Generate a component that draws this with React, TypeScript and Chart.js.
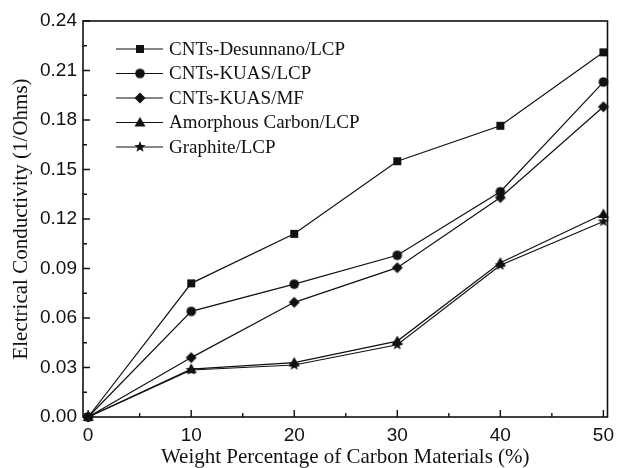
import React, { useEffect, useRef } from 'react';
import { Chart, registerables } from 'chart.js';

Chart.register(...registerables);

const xValues = [0, 10, 20, 30, 40, 50];
const seriesNames = [
  'CNTs-Desunnano/LCP',
  'CNTs-KUAS/LCP',
  'CNTs-KUAS/MF',
  'Amorphous Carbon/LCP',
  'Graphite/LCP',
];
const desunnanoLCP = [0, 0.081, 0.111, 0.155, 0.1765, 0.221];
const kuasLCP = [0, 0.064, 0.0805, 0.098, 0.1365, 0.203];
const kuasMF = [0, 0.036, 0.0695, 0.0905, 0.133, 0.188];
const amorphousLCP = [0, 0.029, 0.033, 0.046, 0.0935, 0.123];
const graphiteLCP = [0, 0.0285, 0.0315, 0.0438, 0.092, 0.1185];

const xTicks = [0, 10, 20, 30, 40, 50];
const xMinorTicks = [5, 15, 25, 35, 45];
const yTicks = [0, 0.03, 0.06, 0.09, 0.12, 0.15, 0.18, 0.21, 0.24];
const yMinorTicks = [0.015, 0.045, 0.075, 0.105, 0.135, 0.165, 0.195, 0.225];

const xTitle = 'Weight Percentage of Carbon Materials (%)';
const yTitle = 'Electrical Conductivity (1/Ohms)';

const INK = '#111';
const SERIF = '"Liberation Serif", "Times New Roman", serif';
const SANS = '"Liberation Sans", Arial, sans-serif';

function makeMarker(shape: string): HTMLCanvasElement {
  const c = document.createElement('canvas');
  c.width = 14;
  c.height = 14;
  const g = c.getContext('2d')!;
  g.fillStyle = INK;
  g.beginPath();
  const cx = 7, cy = 7;
  if (shape === 'square') {
    g.rect(cx - 4, cy - 4, 8, 8);
  } else if (shape === 'circle') {
    g.arc(cx, cy, 4.8, 0, Math.PI * 2);
  } else if (shape === 'diamond') {
    g.moveTo(cx, cy - 5.5);
    g.lineTo(cx + 5.5, cy);
    g.lineTo(cx, cy + 5.5);
    g.lineTo(cx - 5.5, cy);
    g.closePath();
  } else if (shape === 'triangle') {
    g.moveTo(cx, cy - 5.5);
    g.lineTo(cx + 5.5, cy + 4);
    g.lineTo(cx - 5.5, cy + 4);
    g.closePath();
  } else {
    const ro = 6, ri = 2.5;
    for (let i = 0; i < 10; i++) {
      const r = i % 2 === 0 ? ro : ri;
      const a = -Math.PI / 2 + (i * Math.PI) / 5;
      const px = cx + r * Math.cos(a);
      const py = cy + r * Math.sin(a);
      if (i === 0) g.moveTo(px, py);
      else g.lineTo(px, py);
    }
    g.closePath();
  }
  g.fill();
  return c;
}

const frameAndTicks = {
  id: 'frameAndTicks',
  afterDatasetsDraw(chart: any) {
    const { ctx, chartArea } = chart;
    const xs = chart.scales.x;
    const ys = chart.scales.y;
    const { left, right, top, bottom } = chartArea;
    ctx.save();
    ctx.strokeStyle = INK;
    ctx.lineWidth = 1.6;
    ctx.strokeRect(left, top, right - left, bottom - top);
    ctx.lineWidth = 1.4;
    ctx.beginPath();
    const xt = (vals: number[], len: number) => {
      vals.forEach((v) => {
        const px = xs.getPixelForValue(v);
        ctx.moveTo(px, bottom);
        ctx.lineTo(px, bottom - len);
      });
    };
    const yt = (vals: number[], len: number) => {
      vals.forEach((v) => {
        const py = ys.getPixelForValue(v);
        ctx.moveTo(left, py);
        ctx.lineTo(left + len, py);
      });
    };
    xt(xTicks, 7);
    xt(xMinorTicks, 4);
    yt(yTicks, 7);
    yt(yMinorTicks, 4);
    ctx.stroke();
    ctx.restore();
  },
};

const insideLegend = {
  id: 'insideLegend',
  afterDraw(chart: any) {
    const { ctx } = chart;
    ctx.save();
    ctx.font = `19px ${SERIF}`;
    ctx.textBaseline = 'middle';
    ctx.textAlign = 'left';
    chart.data.datasets.forEach((ds: any, i: number) => {
      const y = 49 + i * 24.5;
      ctx.strokeStyle = INK;
      ctx.lineWidth = 1.2;
      ctx.beginPath();
      ctx.moveTo(116, y);
      ctx.lineTo(163, y);
      ctx.stroke();
      const img = ds.pointStyle as HTMLCanvasElement;
      ctx.drawImage(img, 140 - img.width / 2, y - img.height / 2);
      ctx.fillStyle = INK;
      ctx.fillText(ds.label, 169, y + 1);
    });
    ctx.restore();
  },
};

export default function App() {
  const ref = useRef<HTMLCanvasElement | null>(null);

  useEffect(() => {
    document.body.style.margin = '0';
    const markers = ['square', 'circle', 'diamond', 'triangle', 'star'].map(makeMarker);
    const seriesValues = [desunnanoLCP, kuasLCP, kuasMF, amorphousLCP, graphiteLCP];
    const datasets = seriesValues.map((vals, i) => ({
      label: seriesNames[i],
      data: vals.map((v, j) => ({ x: xValues[j], y: v })),
      borderColor: INK,
      backgroundColor: INK,
      borderWidth: 1.2,
      pointStyle: markers[i] as any,
      pointRadius: 5,
      clip: false as any,
      tension: 0,
    }));

    const chart = new Chart(ref.current!, {
      type: 'line',
      data: { datasets },
      plugins: [frameAndTicks, insideLegend],
      options: {
        animation: false,
        responsive: false,
        layout: { padding: { top: 21, right: 7, bottom: 0, left: 0 } },
        plugins: { legend: { display: false }, tooltip: { enabled: false } },
        scales: {
          x: {
            type: 'linear',
            min: -0.5,
            max: 50.4,
            grid: { display: false, drawTicks: false },
            border: { display: false },
            afterBuildTicks: (s: any) => {
              s.ticks = xTicks.map((v) => ({ value: v }));
            },
            afterFit: (s: any) => {
              s.height = 51;
            },
            ticks: {
              color: INK,
              padding: 7,
              maxRotation: 0,
              autoSkip: false,
              font: { family: SANS, size: 19 },
              callback: (v: any) => String(v),
            },
            title: {
              display: true,
              text: xTitle,
              color: INK,
              font: { family: SERIF, size: 21 },
              padding: { top: 0, bottom: -2 },
            },
          },
          y: {
            type: 'linear',
            min: 0,
            max: 0.24,
            grid: { display: false, drawTicks: false },
            border: { display: false },
            afterBuildTicks: (s: any) => {
              s.ticks = yTicks.map((v) => ({ value: v }));
            },
            afterFit: (s: any) => {
              s.width = 83;
            },
            ticks: {
              color: INK,
              padding: 6,
              autoSkip: false,
              font: { family: SANS, size: 19 },
              callback: (v: any) => Number(v).toFixed(2),
            },
            title: {
              display: true,
              text: yTitle,
              color: INK,
              font: { family: SERIF, size: 21 },
              padding: { top: 9, bottom: 0 },
            },
          },
        },
      },
    });
    return () => chart.destroy();
  }, []);

  return (
    <div style={{ position: 'fixed', left: 0, top: 0, width: 621, height: 468, background: '#fff' }}>
      <canvas ref={ref} width={621} height={468} style={{ display: 'block' }} />
    </div>
  );
}
